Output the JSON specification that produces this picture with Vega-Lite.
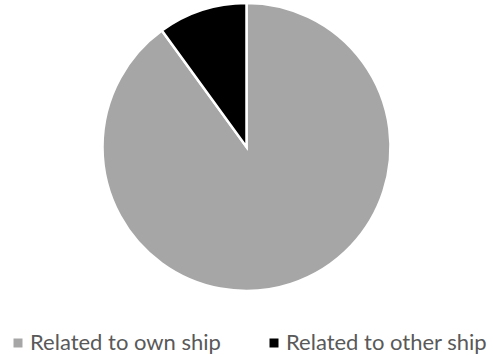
{
  "$schema": "https://vega.github.io/schema/vega-lite/v6.json",
  "width": 493,
  "height": 294,
  "autosize": {"type": "none"},
  "padding": {"top": 0, "left": 0, "right": 0, "bottom": 63},
  "background": "white",
  "view": {"stroke": null},
  "data": {
    "values": [
      {"category": "Related to own ship", "share": 90, "idx": 1},
      {"category": "Related to other ship", "share": 10, "idx": 2}
    ]
  },
  "mark": {"type": "arc", "outerRadius": 144, "stroke": "white", "strokeWidth": 2.5},
  "encoding": {
    "theta": {"field": "share", "type": "quantitative", "stack": true},
    "order": {"field": "idx", "type": "quantitative"},
    "color": {
      "field": "category",
      "type": "nominal",
      "scale": {
        "domain": ["Related to own ship", "Related to other ship"],
        "range": ["#A6A6A6", "#000000"]
      },
      "legend": {
        "title": null,
        "orient": "none",
        "legendX": 7,
        "legendY": 332,
        "padding": 0,
        "direction": "horizontal",
        "columns": 2,
        "columnPadding": 42,
        "symbolType": "square",
        "symbolSize": 81,
        "symbolStrokeWidth": 0,
        "symbolOffset": 0,
        "labelOffset": 1,
        "labelFont": "Lato",
        "labelFontSize": 22,
        "labelColor": "#595959",
        "labelLimit": 400
      }
    }
  }
}
